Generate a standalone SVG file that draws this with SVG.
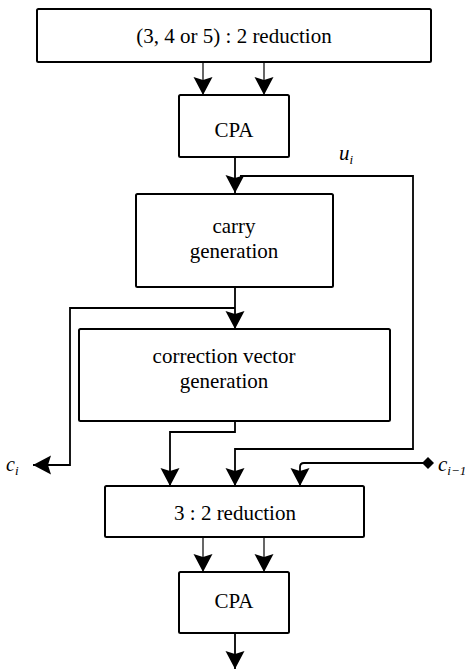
<svg xmlns="http://www.w3.org/2000/svg" width="465" height="671" viewBox="0 0 465 671">
<style>
.box{fill:#fff;stroke:#000;stroke-width:2}
text{font-family:'Liberation Serif','Times New Roman',Times,serif}
.t{font-size:21px;fill:#000;text-anchor:middle}
.m{font-style:italic;fill:#000}
.c{fill:none;stroke:#000;stroke-width:1.8}
.thin{fill:none;stroke:#000;stroke-width:1.2}
</style>
<defs>
<marker id="ah" markerUnits="userSpaceOnUse" markerWidth="22" markerHeight="22" viewBox="-20 -11 22 22" refX="0" refY="0" orient="auto">
<path d="M0,0 L-18,-9.5 L-15,0 L-18,9.5 z" fill="#000"/>
</marker>
<marker id="dm" markerUnits="userSpaceOnUse" markerWidth="14" markerHeight="14" viewBox="-7 -7 14 14" refX="0" refY="0" orient="auto">
<path d="M0,-6 L6,0 L0,6 L-6,0 z" fill="#000"/>
</marker>
</defs>
<g id="connectors">
<path class="thin" d="M203,63 V95" marker-end="url(#ah)"/>
<path class="thin" d="M264,63 V95" marker-end="url(#ah)"/>
<path class="c" d="M235,157 V193" marker-end="url(#ah)"/>
<path class="c" d="M240,176 H413 V449 H235 V486" marker-end="url(#ah)"/>
<path class="c" d="M235,287 V329" marker-end="url(#ah)"/>
<path class="c" d="M235,308 H70 V465 H33" marker-end="url(#ah)"/>
<path class="c" d="M235,421 V432 H170 V486" marker-end="url(#ah)"/>
<path class="c" d="M428,463 H304 Q300,463 300,467 V486" marker-end="url(#ah)" marker-start="url(#dm)"/>
<path class="thin" d="M203,537 V572" marker-end="url(#ah)"/>
<path class="thin" d="M264,537 V572" marker-end="url(#ah)"/>
<path class="c" d="M235,633 V669" marker-end="url(#ah)"/>
</g>
<g id="n1"><rect class="box" x="37" y="9" width="394" height="53" rx="1.5"/><text class="t" x="234" y="43">(3, 4 or 5) : 2 reduction</text></g>
<g id="n2"><rect class="box" x="179" y="95" width="110" height="62" rx="1.5"/><text class="t" x="234" y="137">CPA</text></g>
<g id="n3"><rect class="box" x="136" y="194" width="197" height="93" rx="1.5"/><text class="t" x="234" y="233">carry</text><text class="t" x="234" y="258">generation</text></g>
<g id="n4"><rect class="box" x="79" y="329" width="311" height="92" rx="1.5"/><text class="t" x="224" y="363">correction vector</text><text class="t" x="224" y="388">generation</text></g>
<g id="n5"><rect class="box" x="105" y="486" width="259" height="51" rx="1.5"/><text class="t" x="235" y="520">3 : 2 reduction</text></g>
<g id="n6"><rect class="box" x="179" y="572" width="110" height="61" rx="1.5"/><text class="t" x="234" y="608">CPA</text></g>
<g id="labels">
<text class="m" x="339" y="160" font-size="21">u<tspan font-size="13" dy="4">i</tspan></text>
<text class="m" x="6" y="471" font-size="20">c<tspan font-size="13" dy="4">i</tspan></text>
<text class="m" x="438" y="471" font-size="21">c<tspan font-size="13" dy="4">i−1</tspan></text>
</g>
</svg>
